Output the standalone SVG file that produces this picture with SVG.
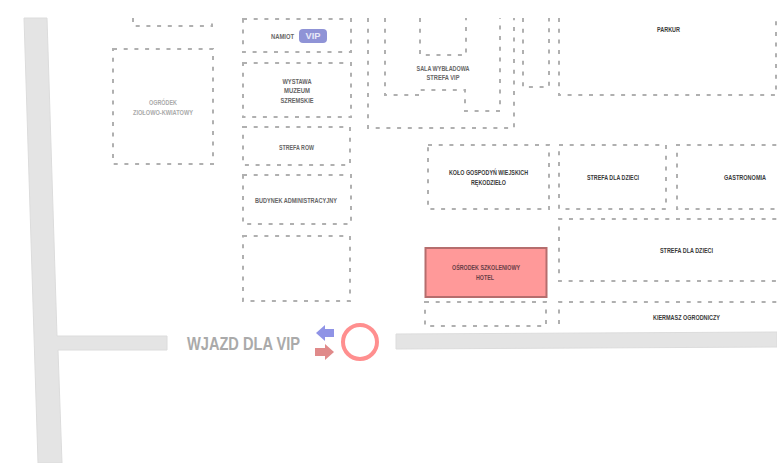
<svg xmlns="http://www.w3.org/2000/svg" width="777" height="463" viewBox="0 0 777 463">
<style>
text{font-family:"Liberation Sans",Arial,sans-serif;font-weight:700;text-anchor:middle;dominant-baseline:central}
.d{fill:none;stroke:#b0b0b0;stroke-width:2;stroke-dasharray:4 6.7}
.road{fill:#e4e4e4;stroke:#dcdcdc;stroke-width:1}
.t{font-size:6.5px;fill:#666}
.g{font-size:6.5px;fill:#aaa}
.k{font-size:6.5px;fill:#3a3a3a}
.h{font-size:6.5px;fill:#6a4048}
</style>
<rect width="777" height="463" fill="#fff"/>
<g id="roads">
<path class="road" d="M24 18H47L57 336H167V350H58L62 463H38Z"/>
<path class="road" d="M396 334L777 332V347L396 349Z"/>
</g>
<g id="strefa-gora"><path class="d" d="M133 18V26H212V18"/></g>
<g id="ogrodek"><rect class="d" x="113" y="49" width="100" height="115"/>
<text class="g" x="163" y="102" textLength="28" lengthAdjust="spacingAndGlyphs">OGRÓDEK</text>
<text class="g" x="163" y="112" textLength="60" lengthAdjust="spacingAndGlyphs">ZIOŁOWO-KWIATOWY</text></g>
<g id="namiot"><rect class="d" x="243" y="19" width="108" height="33"/>
<text class="t" x="282.500" y="36" textLength="23" lengthAdjust="spacingAndGlyphs">NAMIOT</text>
<rect x="299" y="29" width="28" height="14" rx="4" fill="#8f93d6"/>
<text x="313" y="36" font-size="9" fill="#e8e8f8" textLength="15" lengthAdjust="spacingAndGlyphs">VIP</text></g>
<g id="wystawa"><rect class="d" x="243" y="63" width="108" height="54"/>
<text class="t" x="297" y="81" textLength="29" lengthAdjust="spacingAndGlyphs">WYSTAWA</text>
<text class="t" x="297" y="90" textLength="26" lengthAdjust="spacingAndGlyphs">MUZEUM</text>
<text class="t" x="297" y="100" textLength="33" lengthAdjust="spacingAndGlyphs">SZREMSKIE</text></g>
<g id="strefa-row"><rect class="d" x="243" y="127" width="107" height="38"/>
<text class="t" x="296.500" y="147" textLength="35" lengthAdjust="spacingAndGlyphs">STREFA ROW</text></g>
<g id="budynek"><rect class="d" x="243" y="175" width="108" height="49"/>
<text class="t" x="296" y="200" textLength="82" lengthAdjust="spacingAndGlyphs">BUDYNEK ADMINISTRACYJNY</text></g>
<g id="pusty"><rect class="d" x="243" y="236" width="107" height="65"/></g>
<g id="sala">
<path class="d" d="M368 18V128H514V18"/>
<path class="d" d="M385 18V95H420V90H465V111H500V18"/>
<path class="d" d="M420 18V55H466V18"/>
<text class="t" x="443" y="68" textLength="53" lengthAdjust="spacingAndGlyphs">SALA WYBŁADOWA</text>
<text class="t" x="443" y="77" textLength="33" lengthAdjust="spacingAndGlyphs">STREFA VIP</text></g>
<g id="waski"><path class="d" d="M523 18V87H549V18"/></g>
<g id="parkur"><path class="d" d="M559 18V95H776V18"/>
<text class="k" x="668.500" y="29" textLength="23" lengthAdjust="spacingAndGlyphs">PARKUR</text></g>
<g id="kolo"><rect class="d" x="428" y="145" width="121" height="64"/>
<text class="k" x="488.500" y="172" textLength="79" lengthAdjust="spacingAndGlyphs">KOŁO GOSPODYŃ WIEJSKICH</text>
<text class="k" x="488.500" y="182" textLength="35" lengthAdjust="spacingAndGlyphs">RĘKODZIEŁO</text></g>
<g id="dzieci-1"><rect class="d" x="559" y="145" width="107" height="64"/>
<text class="k" x="613" y="177" textLength="52" lengthAdjust="spacingAndGlyphs">STREFA DLA DZIECI</text></g>
<g id="gastronomia"><path class="d" d="M787 145H677V209H787"/>
<text class="k" x="745" y="177" textLength="42" lengthAdjust="spacingAndGlyphs">GASTRONOMIA</text></g>
<g id="dzieci-2"><path class="d" d="M787 219H559V281H787"/>
<text class="k" x="686.500" y="250" textLength="53" lengthAdjust="spacingAndGlyphs">STREFA DLA DZIECI</text></g>
<g id="kiermasz"><path class="d" d="M787 302H559V328"/>
<text class="k" x="686.500" y="317" textLength="67" lengthAdjust="spacingAndGlyphs">KIERMASZ OGRODNICZY</text></g>
<g id="hotel"><rect x="425.500" y="248" width="121" height="49" fill="#ff9999" stroke="#b56d6d" stroke-width="2"/>
<text class="h" x="486" y="267" textLength="68" lengthAdjust="spacingAndGlyphs">OŚRODEK SZKOLENIOWY</text>
<text class="h" x="485" y="277" textLength="18" lengthAdjust="spacingAndGlyphs">HOTEL</text></g>
<g id="ponizej-hotelu"><rect class="d" x="425" y="302" width="121" height="24"/></g>
<g id="wjazd">
<text x="243.500" y="343" font-size="19" fill="#aaa" textLength="113" lengthAdjust="spacingAndGlyphs">WJAZD DLA VIP</text>
<path d="M316 333L325 325V329H334V337H325V341Z" fill="#8f93e6"/>
<path d="M334 352L325 344V348H315V356H325V360Z" fill="#e08a8a"/>
<circle cx="360" cy="342" r="17" fill="#fff" stroke="#ff8f8f" stroke-width="4"/>
</g>
</svg>
